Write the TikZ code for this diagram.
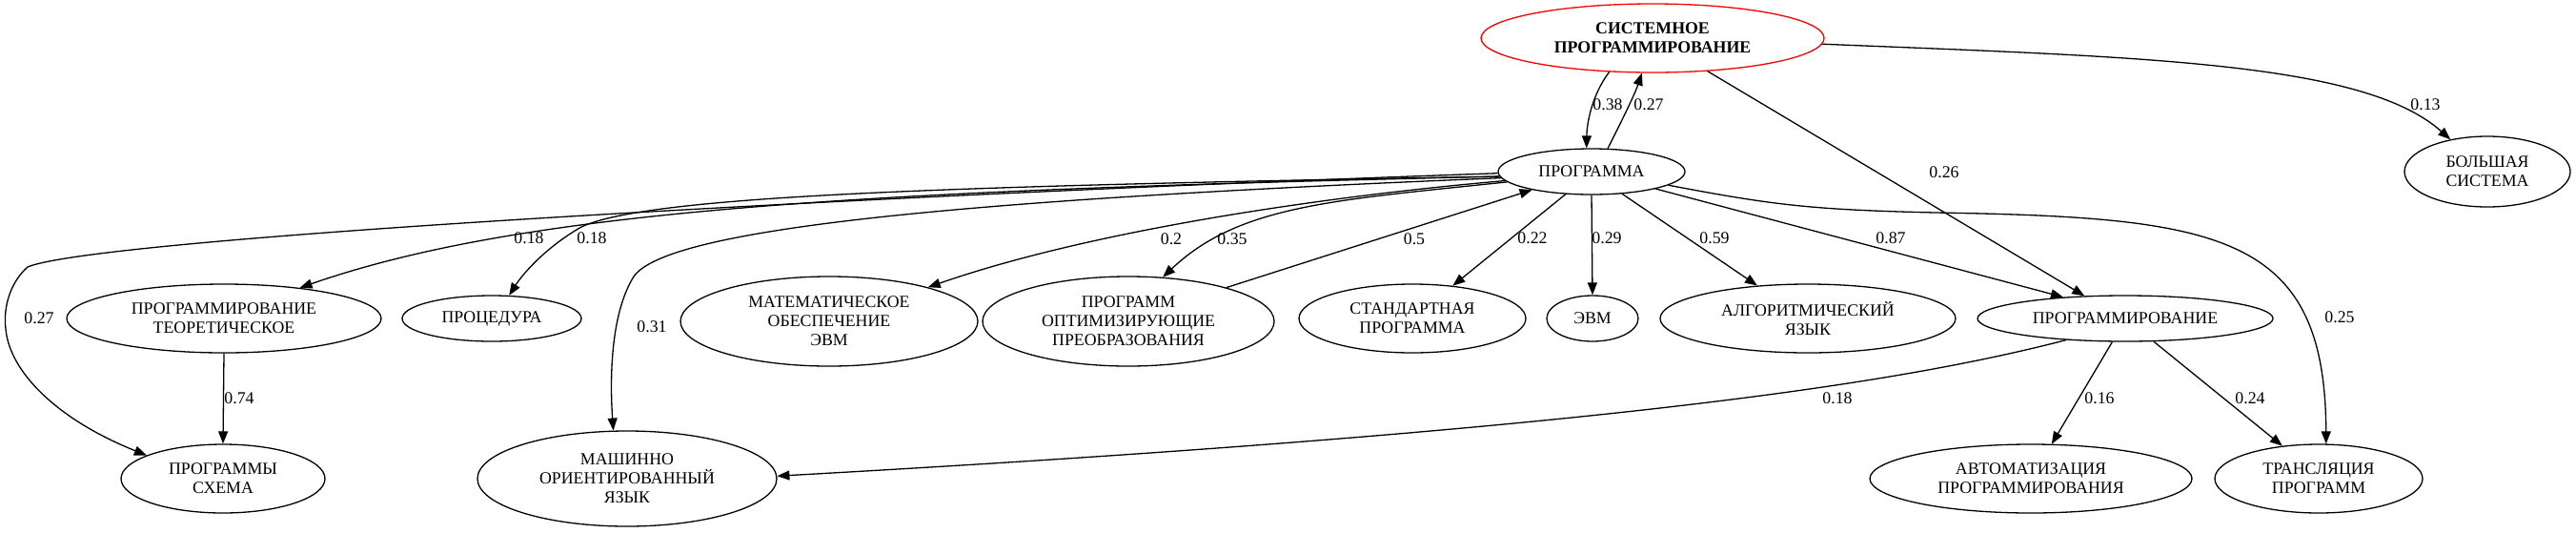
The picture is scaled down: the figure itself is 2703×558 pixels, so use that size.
\documentclass[tikz,border=0pt]{standalone}
\usepackage{fontspec}
\setmainfont{Liberation Serif}
\usetikzlibrary{shapes.geometric,arrows.meta}
\begin{document}
\begin{tikzpicture}[x=1pt,y=-1pt,
  nd/.style={draw,ellipse,inner sep=0pt,align=center,font=\fontsize{17.8}{20}\selectfont,line width=1.3pt},
  ed/.style={line width=1.3pt,-{Triangle[length=13pt,width=10pt]}},
  lb/.style={font=\fontsize{17.8}{20}\selectfont,inner sep=0pt}]
\useasboundingbox (0,0) rectangle (2703,558);
% nodes
\node[nd,draw=red,minimum width=360pt,minimum height=72pt,font=\fontsize{17.8}{20}\selectfont\bfseries] (S) at (1734,40) {СИСТЕМНОЕ\\ПРОГРАММИРОВАНИЕ};
\node[nd,minimum width=196pt,minimum height=48pt] (P) at (1670,180) {ПРОГРАММА};
\node[nd,minimum width=174pt,minimum height=74pt] (B) at (2610,180) {БОЛЬШАЯ\\СИСТЕМА};
\node[nd,minimum width=330pt,minimum height=72pt] (PT) at (235,334) {ПРОГРАММИРОВАНИЕ\\ТЕОРЕТИЧЕСКОЕ};
\node[nd,minimum width=188pt,minimum height=48pt] (PR) at (516,334) {ПРОЦЕДУРА};
\node[nd,minimum width=312pt,minimum height=94pt] (ME) at (870,337) {МАТЕМАТИЧЕСКОЕ\\ОБЕСПЕЧЕНИЕ\\ЭВМ};
\node[nd,minimum width=306pt,minimum height=94pt] (PO) at (1184,337) {ПРОГРАММ\\ОПТИМИЗИРУЮЩИЕ\\ПРЕОБРАЗОВАНИЯ};
\node[nd,minimum width=238pt,minimum height=72pt] (ST) at (1482,334) {СТАНДАРТНАЯ\\ПРОГРАММА};
\node[nd,minimum width=96pt,minimum height=48pt] (E) at (1671,334) {ЭВМ};
\node[nd,minimum width=310pt,minimum height=72pt] (AL) at (1897,334) {АЛГОРИТМИЧЕСКИЙ\\ЯЗЫК};
\node[nd,minimum width=310pt,minimum height=48pt] (PG) at (2230,334) {ПРОГРАММИРОВАНИЕ};
\node[nd,minimum width=214pt,minimum height=72pt] (SX) at (234,502) {ПРОГРАММЫ\\СХЕМА};
\node[nd,minimum width=314pt,minimum height=100pt] (MO) at (658,502) {МАШИННО\\ОРИЕНТИРОВАННЫЙ\\ЯЗЫК};
\node[nd,minimum width=338pt,minimum height=72pt] (AV) at (2131,502) {АВТОМАТИЗАЦИЯ\\ПРОГРАММИРОВАНИЯ};
\node[nd,minimum width=218pt,minimum height=72pt] (TR) at (2433,502) {ТРАНСЛЯЦИЯ\\ПРОГРАММ};
% edges
\draw[ed] (S.218) .. controls (1670,100) and (1665,130) .. (P.102);
\draw[ed] (P.55) .. controls (1700,130) and (1715,100) .. (S.253);
\draw[ed] (S.329) -- (PG.151.9);
\draw[ed] (S.358) .. controls (2250,60) and (2480,65) .. (B.139.8);
\draw[ed] (P.221.8) -- (ST.39);
\draw[ed] (P.270) -- (E.90);
\draw[ed] (P.324.8) -- (AL.147.8);
\draw[ed] (P.345) -- (PG.161.8);
\draw[ed] (P.350.5) .. controls (1860,215) and (1900,220) .. (2031,223) .. controls (2330,228) and (2440,245) .. (TR.78.7);
\draw[ed] (PO.19.5) -- (P.197.5);
\draw[ed] (P.187.2) .. controls (1400,210) and (1300,215) .. (PO.52.4);
\draw[ed] (P.186) .. controls (1400,205) and (1150,240) .. (ME.19.9);
\draw[ed] (P.184.8) .. controls (1000,210) and (700,240) .. (665,290) .. controls (640,330) and (640,400) .. (MO.106.7);
\draw[ed] (P.183.6) .. controls (1000,195) and (680,205) .. (610,238) .. controls (575,258) and (550,285) .. (PR.53.1);
\draw[ed] (P.183) .. controls (900,200) and (550,220) .. (PT.22);
\draw[ed] (P.181.8) .. controls (900,205) and (100,250) .. (29,280) .. controls (12,295) and (3,320) .. (6,345) .. controls (10,390) and (60,440) .. (SX.163);
\draw[ed] (PT.270) -- (SX.90);
\draw[ed] (PG.200.7) .. controls (2000,400) and (1700,450) .. (MO.1.5);
\draw[ed] (PG.241.6) -- (AV.59);
\draw[ed] (PG.321.3) -- (TR.138.1);
% labels
\node[lb] (l1) at (1687,110) {0.38};
\node[lb] (l2) at (1730,110) {0.27};
\node[lb] (l3) at (2040,181) {0.26};
\node[lb] (l4) at (2545,110) {0.13};
\node[lb] (l5) at (1608,250) {0.22};
\node[lb] (l6) at (1686,250) {0.29};
\node[lb] (l7) at (1799,250) {0.59};
\node[lb] (l8) at (1984,250) {0.87};
\node[lb] (l9) at (2455,333) {0.25};
\node[lb] (l10) at (1484,251) {0.5};
\node[lb] (l11) at (1293,251) {0.35};
\node[lb] (l12) at (1229,251) {0.2};
\node[lb] (l13) at (684,343) {0.31};
\node[lb] (l14) at (621,250) {0.18};
\node[lb] (l15) at (555,250) {0.18};
\node[lb] (l16) at (41,334) {0.27};
\node[lb] (l17) at (251,418) {0.74};
\node[lb] (l18) at (1928,418) {0.18};
\node[lb] (l19) at (2203,418) {0.16};
\node[lb] (l20) at (2361,418) {0.24};
\end{tikzpicture}
\end{document}
